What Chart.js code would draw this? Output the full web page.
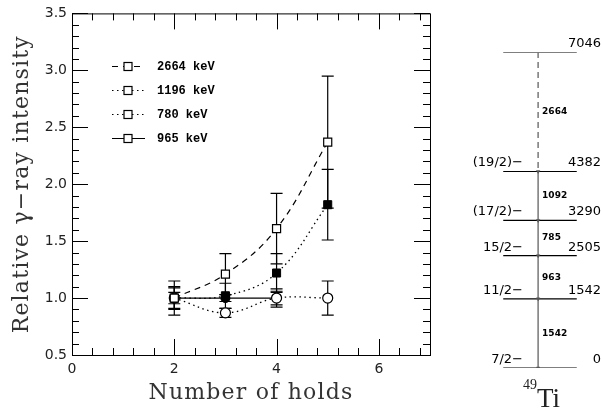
<!DOCTYPE html>
<html>
<head>
<meta charset="utf-8">
<script src="https://cdn.jsdelivr.net/npm/chart.js@4.4.1/dist/chart.umd.min.js"></script>
<style>
  body { margin: 0; background: #fff; }
  #plot { position: absolute; left: 0; top: 0; }
  #levels { position: absolute; left: 445px; top: 0; }
</style>
</head>
<body>
<canvas id="plot" width="445" height="412"></canvas>
<canvas id="levels" width="157" height="412"></canvas>
<script>
// data
let holds = [2, 3, 4, 5];
let holds965 = [2, 3, 4];
let int2664 = [1.0, 1.21, 1.61, 2.37];
let err2664 = [0.15, 0.18, 0.31, 0.58];
let int1196 = [1.0, 1.02, 1.22, 1.82];
let err1196 = [0.10, 0.11, 0.17, 0.31];
let int780 = [1.0, 0.87, 1.0, 1.0];
let err780 = [0.09, 0.04, 0.08, 0.15];
let int965 = [1.0, 1.0, 1.0];
let err965 = [0.05, 0.03, 0.06];
let seriesNames = ["2664 keV", "1196 keV", "780 keV", "965 keV"];

let xTicks = [0, 2, 4, 6];
let yTicks = [0.5, 1.0, 1.5, 2.0, 2.5, 3.0, 3.5];

// level scheme of 49Ti
let levelEnergy = [0, 1542, 2505, 3290, 4382, 7046];
let levelSpin = ["7/2−", "11/2−", "15/2−", "(17/2)−", "(19/2)−", ""];
let gammaEnergy = [2664, 1092, 785, 963, 1542];
let gammaFrom = [7046, 4382, 3290, 2505, 1542];
let gammaTo = [4382, 3290, 2505, 1542, 0];

function points(xs, ys) {
  return xs.map((x, i) => ({ x: x, y: ys[i] }));
}

// frame with inward ticks on all four sides
const framePlugin = {
  id: "frame",
  afterDraw(chart) {
    let ctx = chart.ctx;
    let a = chart.chartArea;
    let xs = chart.scales.x;
    let ys = chart.scales.y;
    ctx.save();
    ctx.strokeStyle = "#000";
    ctx.lineWidth = 1;
    ctx.strokeRect(a.left + 0.5, a.top + 0.5, a.right - a.left, a.bottom - a.top);
    ctx.beginPath();
    for (let i = 0; i <= 30; i++) {
      let v = 0.5 + i * 0.1;
      let len = i % 5 === 0 ? 16 : 7;
      let py = Math.round(ys.getPixelForValue(v)) + 0.5;
      ctx.moveTo(a.left, py); ctx.lineTo(a.left + len, py);
      ctx.moveTo(a.right, py); ctx.lineTo(a.right - len, py);
    }
    for (let i = 0; i <= 17; i++) {
      let v = i * 0.4;
      let len = i % 5 === 0 ? 16 : 7;
      let px = Math.round(xs.getPixelForValue(v)) + 0.5;
      ctx.moveTo(px, a.bottom); ctx.lineTo(px, a.bottom - len);
      ctx.moveTo(px, a.top); ctx.lineTo(px, a.top + len);
    }
    ctx.stroke();

    // axis titles
    ctx.fillStyle = "#333";
    ctx.font = "22px 'DejaVu Serif'";
    ctx.letterSpacing = "1.2px";
    ctx.textAlign = "center";
    ctx.textBaseline = "middle";
    ctx.fillText("Number of holds", (a.left + a.right) / 2, 393);
    ctx.translate(22, (a.top + a.bottom) / 2);
    ctx.rotate(-Math.PI / 2);
    ctx.fillText("Relative γ−ray intensity", 0, 0);
    ctx.restore();

    // legend
    ctx.save();
    ctx.font = "bold 12px 'Liberation Mono'";
    ctx.textBaseline = "middle";
    ctx.textAlign = "left";
    chart.data.datasets.forEach((ds, i) => {
      let y = 66 + i * 24 + 0.5;
      ctx.strokeStyle = "#000";
      ctx.lineWidth = 1.2;
      ctx.setLineDash(ds.borderDash || []);
      ctx.beginPath();
      ctx.moveTo(112, y); ctx.lineTo(145, y);
      ctx.stroke();
      ctx.setLineDash([]);
      ctx.fillStyle = "#fff";
      ctx.fillRect(124, y - 4, 8, 8);
      ctx.strokeRect(124, y - 4, 8, 8);
      ctx.fillStyle = "#000";
      ctx.fillText(ds.label, 157, y);
    });
    ctx.restore();
  },
  beforeDatasetsDraw(chart) {
    let ctx = chart.ctx;
    let xs = chart.scales.x;
    let ys = chart.scales.y;
    ctx.save();
    ctx.strokeStyle = "#000";
    ctx.lineWidth = 1.2;
    chart.data.datasets.forEach(ds => {
      ds.data.forEach((p, j) => {
        let e = ds.errors[j];
        let px = xs.getPixelForValue(p.x);
        let top = ys.getPixelForValue(p.y + e);
        let bot = ys.getPixelForValue(p.y - e);
        ctx.beginPath();
        ctx.moveTo(px, top); ctx.lineTo(px, bot);
        ctx.moveTo(px - 6, top); ctx.lineTo(px + 6, top);
        ctx.moveTo(px - 6, bot); ctx.lineTo(px + 6, bot);
        ctx.stroke();
      });
    });
    ctx.restore();
  }
};

new Chart(document.getElementById("plot"), {
  type: "scatter",
  data: {
    datasets: [
      {
        label: seriesNames[0], data: points(holds, int2664), errors: err2664,
        showLine: true, tension: 0.4, borderDash: [6, 5],
        borderColor: "#000", borderWidth: 1.2,
        pointStyle: "rect", pointRadius: 5.7, pointBackgroundColor: "#fff", pointBorderColor: "#000", pointBorderWidth: 1.2
      },
      {
        label: seriesNames[1], data: points(holds, int1196), errors: err1196,
        showLine: true, tension: 0.4, borderDash: [1.5, 3.5],
        borderColor: "#000", borderWidth: 1.3,
        pointStyle: "rect", pointRadius: 5.7, pointBackgroundColor: "#000", pointBorderColor: "#000", pointBorderWidth: 1
      },
      {
        label: seriesNames[2], data: points(holds, int780), errors: err780,
        showLine: true, tension: 0.4, borderDash: [1.5, 3.5],
        borderColor: "#000", borderWidth: 1.3,
        pointStyle: "circle", pointRadius: 5, pointBackgroundColor: "#fff", pointBorderColor: "#000", pointBorderWidth: 1.2
      },
      {
        label: seriesNames[3], data: points(holds965, int965), errors: err965,
        showLine: true, tension: 0,
        borderColor: "#000", borderWidth: 1.2,
        pointStyle: "circle", pointRadius: 4.5, pointBackgroundColor: "#000", pointBorderColor: "#000", pointBorderWidth: 1
      }
    ]
  },
  options: {
    responsive: false,
    animation: false,
    devicePixelRatio: 1,
    layout: { padding: { top: 10, right: 15, left: 0, bottom: 0 } },
    plugins: { legend: { display: false }, tooltip: { enabled: false } },
    scales: {
      x: {
        type: "linear", min: 0, max: 7,
        grid: { display: false, drawTicks: false },
        border: { display: false },
        afterBuildTicks: s => { s.ticks = xTicks.map(v => ({ value: v })); },
        afterFit: s => { s.height = 57; },
        ticks: { padding: 6, color: "#222", font: { family: "DejaVu Sans", size: 14 } }
      },
      y: {
        type: "linear", min: 0.5, max: 3.5,
        grid: { display: false, drawTicks: false },
        border: { display: false },
        afterBuildTicks: s => { s.ticks = yTicks.map(v => ({ value: v })); },
        afterFit: s => { s.width = 72; },
        ticks: {
          padding: 5, color: "#222", font: { family: "DejaVu Sans", size: 14 },
          callback: v => v.toFixed(1)
        }
      }
    }
  },
  plugins: [framePlugin]
});

// level scheme
let levelLeft = 57, levelRight = 135, gammaX = 94;

const labelPlugin = {
  id: "levelLabels",
  afterDraw(chart) {
    let ctx = chart.ctx;
    let ys = chart.scales.y;
    let xs = chart.scales.x;
    ctx.save();
    ctx.fillStyle = "#000";
    ctx.font = "13px 'DejaVu Sans'";
    ctx.textBaseline = "alphabetic";
    levelEnergy.forEach((e, i) => {
      let py = ys.getPixelForValue(e) - 5;
      ctx.textAlign = "right";
      ctx.fillText(String(e), 156, py);
      ctx.fillText(levelSpin[i], 78, py);
    });
    ctx.font = "bold 9px 'DejaVu Sans'";
    ctx.textAlign = "left";
    ctx.textBaseline = "middle";
    gammaEnergy.forEach((g, i) => {
      let py = ys.getPixelForValue((gammaFrom[i] + gammaTo[i]) / 2);
      ctx.fillText(String(g), xs.getPixelForValue(gammaX) + 4, py);
    });
    ctx.fillStyle = "#222";
    ctx.textBaseline = "alphabetic";
    ctx.font = "14px 'Liberation Serif'";
    ctx.fillText("49", 78, 389);
    ctx.font = "27px 'Liberation Serif'";
    ctx.fillText("Ti", 92, 407);
    ctx.restore();
  }
};

let levelSets = levelEnergy.map(e => ({
  data: [{ x: levelLeft, y: e }, { x: levelRight, y: e }],
  showLine: true, borderColor: "#000", borderWidth: 1.2, pointRadius: 0
}));
let gammaSets = gammaEnergy.map((g, i) => ({
  data: [{ x: gammaX, y: gammaFrom[i] }, { x: gammaX, y: gammaTo[i] }],
  showLine: true, borderColor: "#777", borderWidth: 1.5,
  borderDash: i === 0 ? [6, 4] : [],
  pointStyle: "triangle", rotation: 180,
  pointRadius: [0, 2], pointBackgroundColor: "#555", pointBorderColor: "#555", pointBorderWidth: 0.5
}));

new Chart(document.getElementById("levels"), {
  type: "scatter",
  data: { datasets: gammaSets.concat(levelSets) },
  options: {
    responsive: false,
    animation: false,
    devicePixelRatio: 1,
    layout: { padding: { top: 52, bottom: 44, left: 0, right: 0 } },
    plugins: { legend: { display: false }, tooltip: { enabled: false } },
    scales: {
      x: { type: "linear", min: 0, max: 157, display: false },
      y: { type: "linear", min: 0, max: 7046, display: false }
    }
  },
  plugins: [labelPlugin]
});
</script>
</body>
</html>
